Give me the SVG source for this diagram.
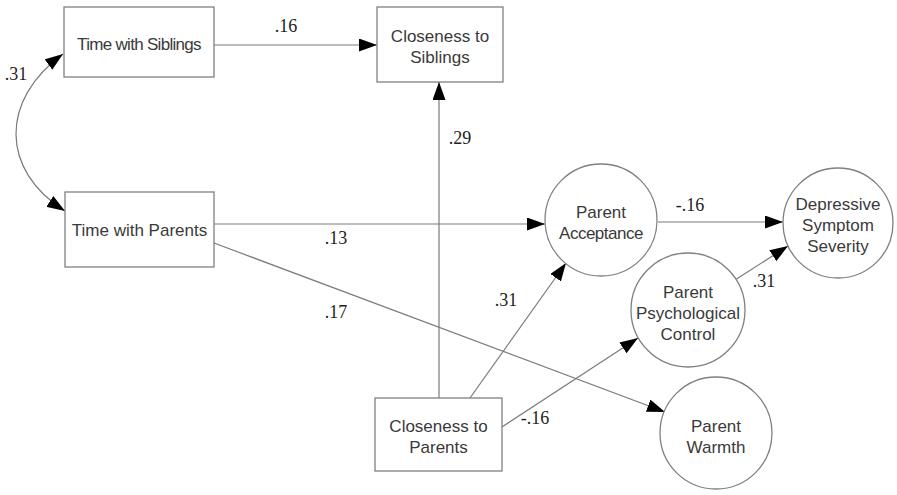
<svg xmlns="http://www.w3.org/2000/svg" width="897" height="495" viewBox="0 0 897 495">
<style>
.box{fill:#fff;stroke:#808080;stroke-width:1.3}
.nt{font-family:"Liberation Sans",Arial,sans-serif;font-size:17px;fill:#3a3a3a;text-anchor:middle}
.lb{font-family:"Liberation Serif","Times New Roman",serif;font-size:18px;fill:#222;text-anchor:middle}
.c{fill:none;stroke:#7a7a7a;stroke-width:1.2}
</style>
<defs>
<marker id="ah" viewBox="0 0 18 13" refX="18" refY="6.5" markerWidth="18" markerHeight="13" markerUnits="userSpaceOnUse" orient="auto-start-reverse">
<path d="M0,0 L18,6.5 L0,13 z" fill="#000"/>
</marker>
</defs>
<rect width="897" height="495" fill="#fff"/>
<g id="connectors">
<path class="c" d="M63,54 C0,100 0,170 65,211" marker-start="url(#ah)" marker-end="url(#ah)"/>
<path class="c" d="M214,45 L377,45" marker-end="url(#ah)"/>
<path class="c" d="M214,224 L545,224" marker-end="url(#ah)"/>
<path class="c" d="M214,243 L665,412" marker-end="url(#ah)"/>
<path class="c" d="M439,398 L439,82" marker-end="url(#ah)"/>
<path class="c" d="M470,398 L566,263" marker-end="url(#ah)"/>
<path class="c" d="M502,427 L638,338" marker-end="url(#ah)"/>
<path class="c" d="M658,222 L783,222" marker-end="url(#ah)"/>
<path class="c" d="M735,280 L788,246" marker-end="url(#ah)"/>
<g font-family="'Liberation Serif','Times New Roman',serif">
<text class="lb" x="286" y="32">.16</text>
<text class="lb" x="16" y="80">.31</text>
<text class="lb" x="336" y="244">.13</text>
<text class="lb" x="336" y="318">.17</text>
<text class="lb" x="460" y="144">.29</text>
<text class="lb" x="506" y="306">.31</text>
<text class="lb" x="535" y="424">-.16</text>
<text class="lb" x="690" y="211">-.16</text>
<text class="lb" x="764" y="287">.31</text>
</g>
</g>
<g id="time-siblings">
<rect class="box" x="64" y="7" width="150" height="70"/>
<text class="nt" x="139" y="50" letter-spacing="-0.7">Time with Siblings</text>
</g>
<g id="closeness-siblings">
<rect class="box" x="377" y="7" width="126" height="75"/>
<text class="nt" x="440" y="42">Closeness to</text>
<text class="nt" x="440" y="63">Siblings</text>
</g>
<g id="time-parents">
<rect class="box" x="65" y="192" width="149" height="75"/>
<text class="nt" x="139.5" y="236">Time with Parents</text>
</g>
<g id="closeness-parents">
<rect class="box" x="375" y="398" width="127" height="73"/>
<text class="nt" x="438.5" y="432">Closeness to</text>
<text class="nt" x="438.5" y="453">Parents</text>
</g>
<g id="parent-acceptance">
<circle class="box" cx="601" cy="220" r="56"/>
<text class="nt" x="601" y="218">Parent</text>
<text class="nt" x="601" y="239" letter-spacing="-0.5">Acceptance</text>
</g>
<g id="depressive">
<circle class="box" cx="838" cy="223" r="55"/>
<text class="nt" x="838" y="210">Depressive</text>
<text class="nt" x="838" y="231">Symptom</text>
<text class="nt" x="838" y="252">Severity</text>
</g>
<g id="psych-control">
<circle class="box" cx="688" cy="310" r="57"/>
<text class="nt" x="688" y="298">Parent</text>
<text class="nt" x="688" y="319">Psychological</text>
<text class="nt" x="688" y="340">Control</text>
</g>
<g id="parent-warmth">
<circle class="box" cx="716" cy="433" r="56"/>
<text class="nt" x="716" y="432">Parent</text>
<text class="nt" x="716" y="453">Warmth</text>
</g>
</svg>
